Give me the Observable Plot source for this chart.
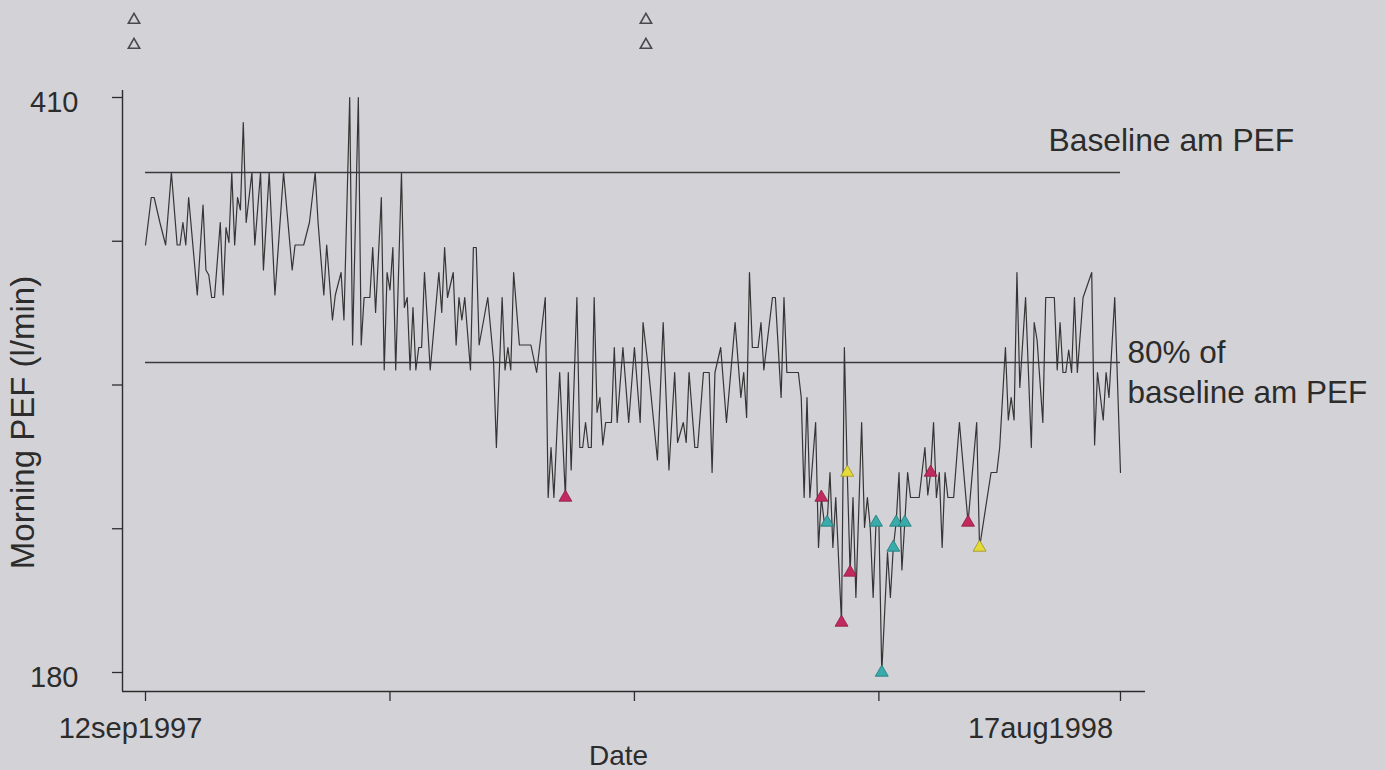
<!DOCTYPE html>
<html><head><meta charset="utf-8">
<script src="https://cdn.jsdelivr.net/npm/d3@7"></script>
<script src="https://cdn.jsdelivr.net/npm/@observablehq/plot@0.6"></script>
<style>
html,body{margin:0;padding:0;background:#d3d3d7;}
#chart{width:1385px;height:770px;overflow:hidden;}
</style></head><body><div id="chart"></div>
<script>
// ---- data ----
const startDate = "1997-09-12";
const dayOffset = [0,2,3,5,7,9,11,12,13,14,15,18,20,21,22,23,24,26,27,28,29,30,31,32,33,34,35,37,38,40,41,43,45,48,51,52,55,57,59,60,62,63,65,66,68,69,71,72,74,75,76,78,79,80,82,83,84,85,86,87,89,90,91,92,93,94,95,96,97,99,102,103,104,105,107,108,109,110,111,113,114,115,116,119,121,122,124,125,126,127,128,130,134,136,139,140,141,142,144,146,147,148,150,151,152,153,154,155,156,157,158,159,160,162,163,164,166,168,170,172,173,175,178,180,182,184,185,187,188,189,191,192,194,196,197,198,200,202,205,207,208,209,210,211,213,214,215,218,219,221,222,223,227,228,229,230,231,233,234,235,236,237,238,239,240,242,243,244,245,246,247,249,250,251,252,253,254,255,256,258,259,260,261,262,263,264,265,266,269,271,272,273,274,275,276,277,278,279,281,283,286,289,290,294,296,297,299,300,301,302,303,304,306,308,309,310,312,313,316,317,318,319,320,321,322,323,324,326,329,330,331,333,334,335,337,339];
const morningPEF = [351,370,370,360,351,380,351,351,360,351,370,331,367,341,339,330,330,360,331,358,352,380,351,370,365,400,360,380,351,380,341,380,331,380,341,351,351,360,380,360,331,351,321,331,340,321,410,311,410,311,330,330,350,324,370,301,340,333,350,301,380,326,330,301,326,301,310,310,340,301,340,324,350,330,340,311,330,321,330,301,350,350,311,330,305,270,330,301,310,301,340,311,311,300,330,250,270,250,300,250,300,261,330,270,270,280,270,270,330,284,290,271,280,280,310,280,310,280,310,280,320,300,265,320,261,300,272,280,272,300,270,270,300,300,260,300,310,280,320,290,300,282,340,310,310,320,301,330,330,290,330,300,300,290,250,290,250,280,230,250,240,240,260,230,250,200,310,260,220,250,210,280,238,250,238,210,240,240,180,228,210,230,240,260,221,240,260,250,250,270,251,260,280,250,260,230,260,250,250,280,240,280,230,260,260,270,310,281,290,281,340,294,330,270,320,313,280,330,330,301,320,300,300,309,300,330,300,330,340,271,300,281,300,290,330,260];
const baselinePEF = 380;
const redDays = [146,235,242,245,273,286];
const redPEF  = [250,250,200,220,260,240];
const tealDays = [237,254,256,260,261,264];
const tealPEF  = [240,240,180,230,240,240];
const yellowDays = [244,290];
const yellowPEF  = [260,230];
const openDays = [-4,-4,174,174];
const openPEF  = [441,431,441,431];
const yTicks = [180,237.5,295,352.5,410];
const yTickLabels = ["180","","","","410"];
const xTickDays = [0,85,170,255,339];
const xTickLabels = ["12sep1997","","","","17aug1998"];

// ---- build ----
const t0 = Date.parse(startDate + "T00:00:00Z");
const toDate = d => new Date(t0 + d * 864e5);
const series = dayOffset.map((d, i) => ({date: toDate(d), pef: morningPEF[i]}));
const pts = (ds, vs) => ds.map((d, i) => ({date: toDate(d), pef: vs[i]}));
const xTicks = xTickDays.map(toDate);
const yLab = new Map(yTicks.map((d, i) => [d, yTickLabels[i]]));
const FONT = "'Liberation Sans', Arial, Helvetica, sans-serif";
const INK = "#2c2c2c";

const xMin = toDate(-8), xMax = toDate(347.7);
const yMin = 172.4, yMax = 412.8;
const labelY = 157.6;  // value level of the date labels row (below the axis)

const chart = Plot.plot({
  width: 1385, height: 770,
  marginLeft: 122, marginRight: 240, marginTop: 90, marginBottom: 79,
  style: {background: "transparent", fontFamily: FONT, color: INK, overflow: "visible"},
  x: {type: "utc", domain: [xMin, xMax]},
  y: {domain: [yMin, yMax]},
  marks: [
    Plot.ruleX([xMin], {stroke: INK, strokeWidth: 1.4}),
    Plot.ruleY([yMin], {stroke: INK, strokeWidth: 1.4}),
    Plot.axisY({ticks: yTicks, tickSize: 10, label: null, tickFormat: () => "", stroke: INK, strokeWidth: 1.3}),
    Plot.axisY({ticks: yTicks, tickSize: 0, tickPadding: 44, label: null, dy: 5,
      tickFormat: d => yLab.get(d), fontSize: 29}),
    Plot.axisX({ticks: xTicks, tickSize: 10, label: null, tickFormat: () => "",
      stroke: INK, strokeWidth: 1.3}),
    Plot.text([0], {x: i => xTicks[i], y: () => labelY, text: i => xTickLabels[i], dx: -15, fontSize: 29, fill: INK}),
    Plot.text([4], {x: i => xTicks[i], y: () => labelY, text: i => xTickLabels[i], dx: -80, fontSize: 29, fill: INK}),
    Plot.ruleY([baselinePEF, 0.8 * baselinePEF], {x1: toDate(0), x2: toDate(339), stroke: "#3a3a3a", strokeWidth: 1.5}),
    Plot.line(series, {x: "date", y: "pef", stroke: "#353535", strokeWidth: 1.2}),
    Plot.dot(pts(openDays, openPEF), {x: "date", y: "pef", symbol: "triangle", r: 4.2, fill: "none", stroke: "#4a4a4a", strokeWidth: 1.6}),
    Plot.dot(pts(redDays, redPEF), {x: "date", y: "pef", symbol: "triangle", r: 4.8, fill: "#c22a5e", stroke: "#8c1c42", strokeWidth: 0.8}),
    Plot.dot(pts(tealDays, tealPEF), {x: "date", y: "pef", symbol: "triangle", r: 4.8, fill: "#3aabab", stroke: "#1f7777", strokeWidth: 0.8}),
    Plot.dot(pts(yellowDays, yellowPEF), {x: "date", y: "pef", symbol: "triangle", r: 4.8, fill: "#e6da3a", stroke: "#9c9020", strokeWidth: 0.8}),
    Plot.text(["Baseline am PEF"], {x: () => toDate(314), y: () => 392.8, text: d => d, textAnchor: "start", fontSize: 31.8, fill: INK}),
    Plot.text(["80% of"], {x: () => toDate(341.4), y: () => 308, text: d => d, textAnchor: "start", fontSize: 31.5, fill: INK}),
    Plot.text(["baseline am PEF"], {x: () => toDate(341.4), y: () => 292, text: d => d, textAnchor: "start", fontSize: 31.5, fill: INK}),
    Plot.text(["Date"], {x: () => toDate(164.5), y: () => 146.4, text: d => d, fontSize: 28, fill: INK}),
    Plot.text(["Morning PEF (l/min)"], {x: () => toDate(-42.3), y: () => 280, text: d => d, rotate: -90, fontSize: 33, fill: INK})
  ]
});
document.getElementById("chart").appendChild(chart);
</script>
</body></html>
